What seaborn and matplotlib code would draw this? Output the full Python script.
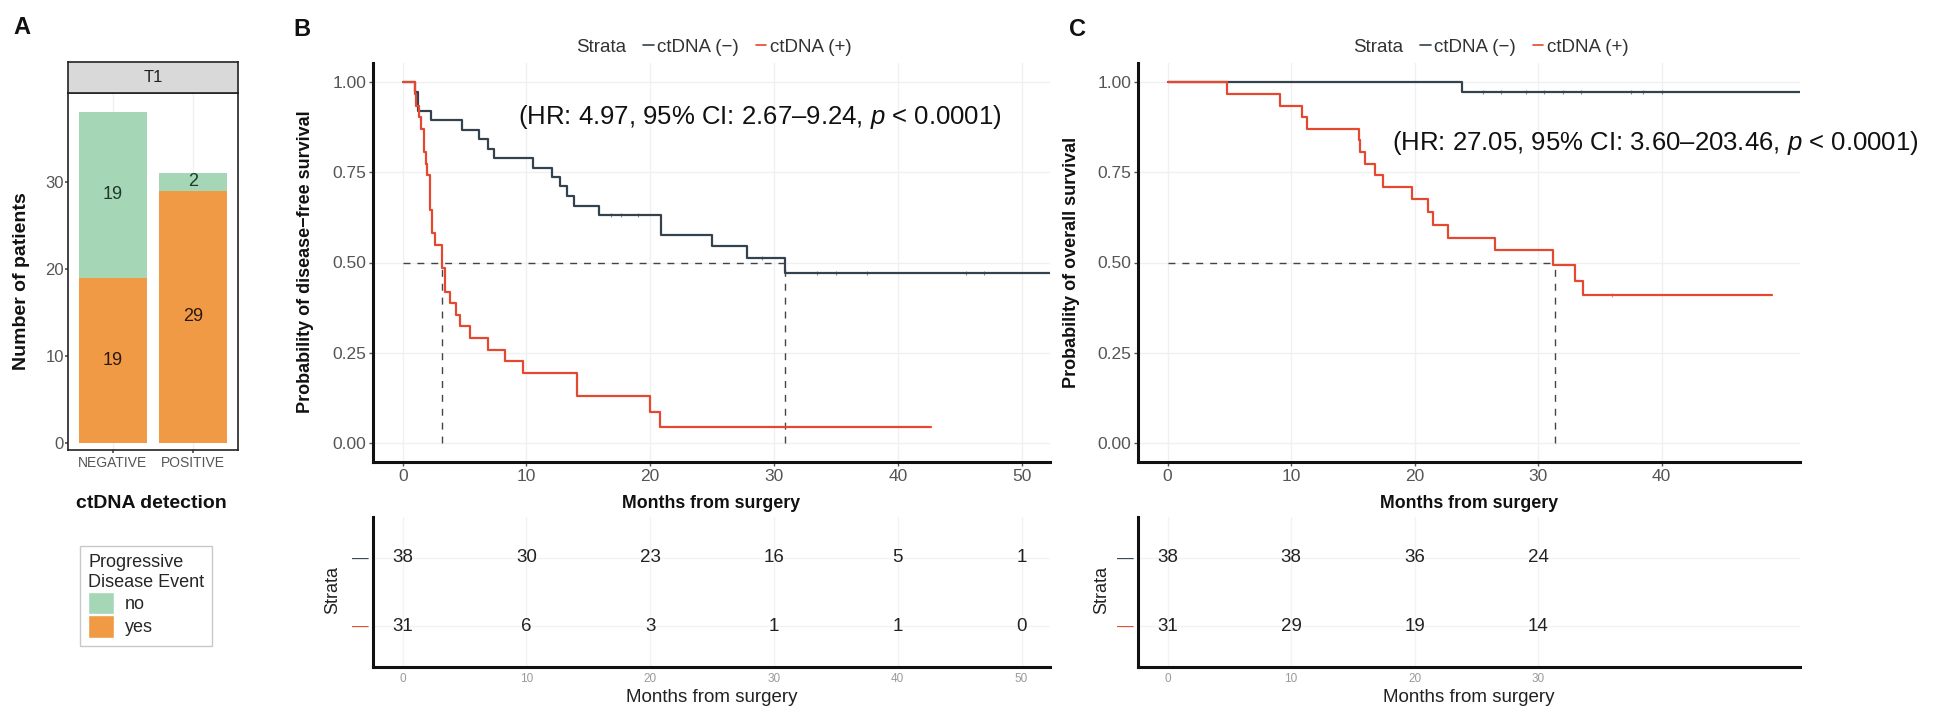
import numpy as np
import pandas as pd
import matplotlib
matplotlib.use("Agg")
import matplotlib.pyplot as plt
import seaborn as sns
from matplotlib.lines import Line2D
from matplotlib.patches import Patch

# ---------------- data ----------------
# Panel A
detection = ["NEGATIVE", "POSITIVE"]
event_no = [19, 2]
event_yes = [19, 29]

# Panel B: disease-free survival (KM steps)
dfs_neg_t = [0, 1.0, 1.2, 2.3, 4.8, 6.2, 6.9, 7.4, 10.5, 12.1, 12.7, 13.3, 13.8, 15.9, 20.9, 25.0, 27.8, 30.9, 52.3]
dfs_neg_s = [1.0, 0.974, 0.921, 0.895, 0.868, 0.842, 0.816, 0.789, 0.763, 0.737, 0.711, 0.684, 0.658, 0.632, 0.577, 0.545, 0.512, 0.470, 0.470]
dfs_pos_t = [0, 0.97, 1.1, 1.3, 1.5, 1.7, 1.9, 2.0, 2.2, 2.4, 2.6, 3.15, 3.4, 3.8, 4.3, 4.6, 5.4, 6.9, 8.3, 9.7, 14.1, 20.0, 20.8, 42.7]
dfs_pos_s = [1.0, 0.968, 0.935, 0.903, 0.871, 0.806, 0.774, 0.742, 0.645, 0.581, 0.548, 0.484, 0.419, 0.387, 0.355, 0.323, 0.290, 0.258, 0.226, 0.194, 0.129, 0.086, 0.045, 0.045]
dfs_neg_cens_t = [16.8, 17.6, 19.0, 29.0, 33.5, 35.0, 37.5, 45.5, 47.0]
dfs_neg_cens_s = [0.632, 0.632, 0.632, 0.512, 0.470, 0.470, 0.470, 0.470, 0.470]
dfs_median = [3.15, 30.9]

# Panel C: overall survival (KM steps)
os_neg_t = [0, 23.8, 51.2]
os_neg_s = [1.0, 0.974, 0.974]
os_pos_t = [0, 4.8, 9.1, 10.9, 11.3, 15.5, 15.6, 15.95, 16.8, 17.45, 19.75, 21.1, 21.5, 22.7, 26.5, 31.2, 33.0, 33.6, 48.9]
os_pos_s = [1.0, 0.968, 0.935, 0.903, 0.871, 0.839, 0.806, 0.774, 0.742, 0.710, 0.677, 0.640, 0.603, 0.568, 0.535, 0.493, 0.450, 0.410, 0.410]
os_neg_cens_t = [25.5, 27.0, 29.0, 30.5, 32.0, 33.5, 37.5, 38.5, 40.0]
os_neg_cens_s = [0.974] * 9
os_pos_cens_t = [36.0]
os_pos_cens_s = [0.410]
os_median = [31.4]

# Risk tables
risk_b_times = [0, 10, 20, 30, 40, 50]
risk_b_neg = [38, 30, 23, 16, 5, 1]
risk_b_pos = [31, 6, 3, 1, 1, 0]
risk_c_times = [0, 10, 20, 30]
risk_c_neg = [38, 38, 36, 24]
risk_c_pos = [31, 29, 19, 14]

hr_b = "(HR: 4.97, 95% CI: 2.67–9.24, $\\it{p}$ < 0.0001)"
hr_c = "(HR: 27.05, 95% CI: 3.60–203.46, $\\it{p}$ < 0.0001)"

# ---------------- style ----------------
sns.set_theme(style="white")
plt.rcParams["font.family"] = ["Liberation Sans", "DejaVu Sans"]
plt.rcParams["mathtext.fontset"] = "custom"
plt.rcParams["mathtext.rm"] = "Liberation Sans"
plt.rcParams["mathtext.it"] = "Liberation Sans:italic"

DARK = "#33424D"
RED = "#E4492F"
GREEN = "#A5D7B6"
ORANGE = "#F09A45"
GRID = "#F0F0F0"
TICKC = "#555555"

W, H = 1934, 710
fig = plt.figure(figsize=(W / 100, H / 100), dpi=100)


def px_axes(x0, y0, x1, y1):
    return fig.add_axes([x0 / W, 1 - y1 / H, (x1 - x0) / W, (y1 - y0) / H])


def fx(x):
    return x / W


def fy(y):
    return 1 - y / H


# ---------------- Panel A ----------------
axA = px_axes(68, 93, 238, 450)
dfA = pd.DataFrame({"detection": detection,
                    "total": np.array(event_no) + np.array(event_yes),
                    "yes": event_yes, "no": event_no})
sns.barplot(data=dfA, x="detection", y="total", color=GREEN, width=0.85,
            saturation=1, ax=axA, edgecolor="none")
sns.barplot(data=dfA, x="detection", y="yes", color=ORANGE, width=0.85,
            saturation=1, ax=axA, edgecolor="none")
for i, (n, y) in enumerate(zip(event_no, event_yes)):
    axA.text(i, y / 2, str(y), ha="center", va="center", fontsize=13, color="#2a1a10")
    axA.text(i, y + n / 2, str(n), ha="center", va="center", fontsize=13, color="#1f3a2a")
axA.set_xlim(-0.56, 1.56)
axA.set_ylim(-0.8, 40.2)
axA.set_yticks([0, 10, 20, 30])
axA.set_xlabel("")
axA.set_ylabel("")
axA.grid(axis="x", color=GRID, lw=1)
axA.set_axisbelow(True)
for sp in axA.spines.values():
    sp.set_color("#222222")
    sp.set_linewidth(1.2)
axA.tick_params(axis="y", labelsize=12, colors=TICKC, length=2, pad=1, left=True)
axA.tick_params(axis="x", labelsize=10, colors=TICKC, length=2, pad=2, bottom=True)

stripA = px_axes(68, 62, 238, 93)
stripA.set_facecolor("#D9D9D9")
stripA.set_xticks([])
stripA.set_yticks([])
for sp in stripA.spines.values():
    sp.set_color("#222222")
    sp.set_linewidth(1.2)
stripA.text(0.5, 0.5, "T1", ha="center", va="center", fontsize=12, color="#222222",
            transform=stripA.transAxes)

fig.text(fx(22), fy(281), "Number of patients", rotation=90, ha="center", va="center",
         fontsize=14, fontweight="bold", color="#111111")
fig.text(fx(151), fy(503), "ctDNA detection", ha="center", va="center",
         fontsize=14, fontweight="bold", color="#111111")
legA = fig.legend(handles=[Patch(facecolor=GREEN), Patch(facecolor=ORANGE)],
                  labels=["no", "yes"], title="Progressive\nDisease Event",
                  loc="upper left", bbox_to_anchor=(fx(80), fy(546)),
                  frameon=True, fontsize=13, title_fontsize=13,
                  handlelength=1.45, handleheight=1.55, handletextpad=0.6,
                  borderpad=0.45, labelspacing=0.05, fancybox=False, borderaxespad=0)
legA.get_frame().set_edgecolor("#BBBBBB")
legA.get_frame().set_linewidth(1)
legA._legend_box.align = "left"


# ---------------- KM helpers ----------------
def km_axes(x0, x1, xlim, xticks, ylab, ylab_x):
    ax = px_axes(x0, 63, x1, 462)
    ax.set_xlim(*xlim)
    ax.set_ylim(-0.053, 1.053)
    ax.set_xticks(xticks)
    ax.set_yticks([0, 0.25, 0.5, 0.75, 1.0])
    ax.set_yticklabels(["0.00", "0.25", "0.50", "0.75", "1.00"])
    ax.grid(True, color=GRID, lw=1)
    ax.set_axisbelow(True)
    for s in ["top", "right"]:
        ax.spines[s].set_visible(False)
    for s in ["left", "bottom"]:
        ax.spines[s].set_color("#111111")
        ax.spines[s].set_linewidth(2.2)
    ax.tick_params(axis="both", labelsize=12.5, colors=TICKC, length=3, width=1,
                   left=True, bottom=True, pad=2)
    fig.text(fx((x0 + x1) / 2), fy(504), "Months from surgery", ha="center", va="center",
             fontsize=12.8, fontweight="bold", color="#111111")
    fig.text(fx(ylab_x), fy(262), ylab, rotation=90, ha="center", va="center",
             fontsize=13, fontweight="bold", color="#111111")
    return ax


def draw_curve(ax, t, s, color):
    sns.lineplot(x=t, y=s, ax=ax, color=color, drawstyle="steps-post",
                 lw=1.6, estimator=None, sort=False)


def risk_axes(x0, x1, xlim, times, neg, pos, strata_x):
    ax = px_axes(x0, 517, x1, 667)
    ax.set_xlim(*xlim)
    ax.set_ylim(0.4, 2.6)
    ax.set_xticks(times)
    ax.set_yticks([1, 2])
    ax.set_yticklabels(["—", "—"], fontsize=12)
    ax.get_yticklabels()[0].set_color(RED)
    ax.get_yticklabels()[1].set_color(DARK)
    ax.grid(True, color="#F3F3F3", lw=1)
    ax.set_axisbelow(True)
    for s in ["top", "right"]:
        ax.spines[s].set_visible(False)
    for s in ["left", "bottom"]:
        ax.spines[s].set_color("#111111")
        ax.spines[s].set_linewidth(2.2)
    ax.tick_params(axis="x", labelsize=8.5, colors="#9A9A9A", length=0, pad=4)
    ax.tick_params(axis="y", length=0, pad=3)
    for t, a, b in zip(times, neg, pos):
        ax.text(t, 2, str(a), ha="center", va="center", fontsize=13.5, color="#222222")
        ax.text(t, 1, str(b), ha="center", va="center", fontsize=13.5, color="#222222")
    fig.text(fx((x0 + x1) / 2), fy(697), "Months from surgery", ha="center", va="center",
             fontsize=13.5, color="#222222")
    fig.text(fx(strata_x), fy(590), "Strata", rotation=90, ha="center", va="center",
             fontsize=13, color="#222222")
    return ax


def strata_legend(xc):
    handles = [Line2D([], [], color="none"),
               Line2D([], [], color=DARK, lw=1.2),
               Line2D([], [], color=RED, lw=1.2)]
    leg = fig.legend(handles=handles, labels=["Strata", "ctDNA (−)", "ctDNA (+)"],
                     loc="center", bbox_to_anchor=(fx(xc), fy(47)), ncol=3,
                     frameon=False, fontsize=13.5, handlelength=0.55,
                     handletextpad=0.2, columnspacing=0.9)
    for txt in leg.get_texts():
        txt.set_color("#333333")


# ---------------- Panel B ----------------
axB = km_axes(373, 1050, (-2.4, 52.3), [0, 10, 20, 30, 40, 50],
              "Probability of disease−free survival", 305)
axB.plot([0, dfs_median[1]], [0.5, 0.5], ls=(0, (5, 5)), color="#444444", lw=1)
for m in dfs_median:
    axB.plot([m, m], [0, 0.5], ls=(0, (5, 5)), color="#444444", lw=1)
draw_curve(axB, dfs_neg_t, dfs_neg_s, DARK)
draw_curve(axB, dfs_pos_t, dfs_pos_s, RED)
sns.scatterplot(x=dfs_neg_cens_t, y=dfs_neg_cens_s, ax=axB, marker="|", s=12,
                color=DARK, linewidth=0.8, alpha=0.6)
strata_legend(707)
fig.text(fx(518), fy(117), hr_b, ha="left", va="center", fontsize=18.5, color="#111111")
risk_axes(373, 1050, (-2.4, 52.3), risk_b_times, risk_b_neg, risk_b_pos, 333)

# ---------------- Panel C ----------------
axC = km_axes(1138, 1800, (-2.4, 51.2), [0, 10, 20, 30, 40],
              "Probability of overall survival", 1072)
axC.plot([0, os_median[0]], [0.5, 0.5], ls=(0, (5, 5)), color="#444444", lw=1)
axC.plot([os_median[0], os_median[0]], [0, 0.5], ls=(0, (5, 5)), color="#444444", lw=1)
draw_curve(axC, os_neg_t, os_neg_s, DARK)
draw_curve(axC, os_pos_t, os_pos_s, RED)
sns.scatterplot(x=os_neg_cens_t, y=os_neg_cens_s, ax=axC, marker="|", s=12,
                color=DARK, linewidth=0.8, alpha=0.6)
sns.scatterplot(x=os_pos_cens_t, y=os_pos_cens_s, ax=axC, marker="|", s=12,
                color=RED, linewidth=0.8, alpha=0.6)
strata_legend(1484)
fig.text(fx(1392), fy(143), hr_c, ha="left", va="center", fontsize=18.5, color="#111111")
risk_axes(1138, 1800, (-2.4, 51.2), risk_c_times, risk_c_neg, risk_c_pos, 1102)

# ---------------- panel letters ----------------
for lab, x, y in [("A", 22, 27), ("B", 302, 29), ("C", 1077, 30)]:
    fig.text(fx(x), fy(y), lab, ha="center", va="center", fontsize=17,
             fontweight="bold", color="#111111")

fig.savefig("out.png", dpi=100)
